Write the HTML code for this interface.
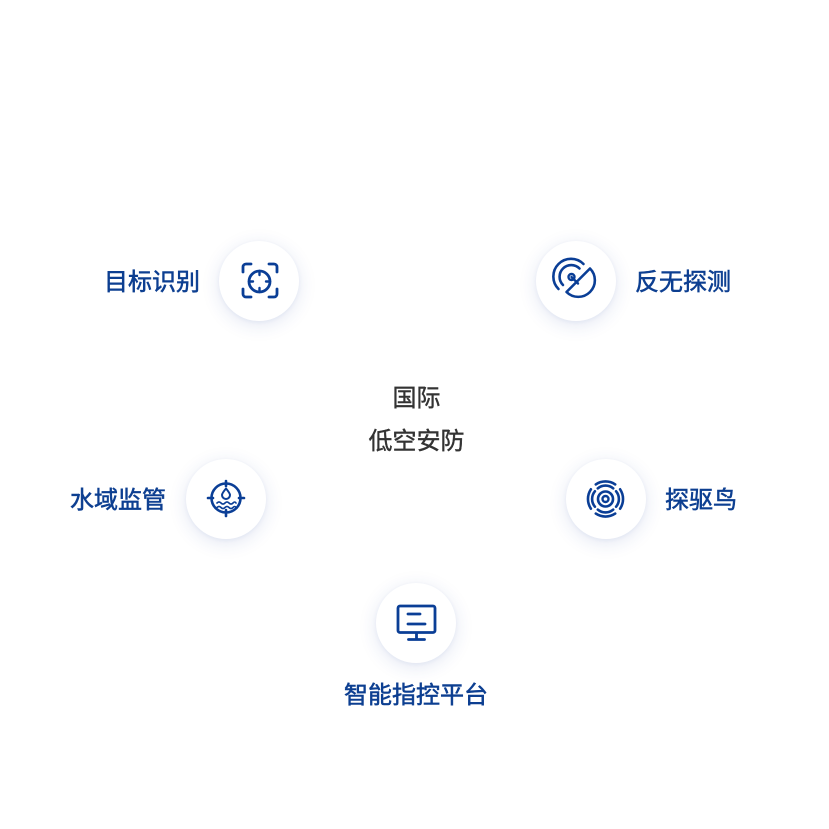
<!DOCTYPE html>
<html><head><meta charset="utf-8"><style>
html,body{margin:0;padding:0;background:#fff;}
body{width:829px;height:829px;position:relative;overflow:hidden;}
.c{position:absolute;width:80px;height:80px;border-radius:50%;background:#fff;box-shadow:0 4px 18px rgba(40,70,160,0.13),0 1px 4px rgba(40,70,160,0.06);}
svg{position:absolute;left:0;top:0;}
</style></head><body>
<div class="c" style="left:219px;top:241px"></div>
<div class="c" style="left:536px;top:241px"></div>
<div class="c" style="left:186px;top:459px"></div>
<div class="c" style="left:566px;top:459px"></div>
<div class="c" style="left:376px;top:583px"></div>
<svg width="829" height="829" viewBox="0 0 829 829">
<g font-family="'Liberation Sans','Noto Sans CJK SC',sans-serif" font-size="24" text-anchor="middle">
<g fill="#0d3f91" stroke="#0d3f91" stroke-width="0.55">
<text x="152" y="290">目标识别</text>
<text x="683" y="290">反无探测</text>
<text x="118" y="508">水域监管</text>
<text x="701" y="508">探驱鸟</text>
<text x="416" y="703">智能指控平台</text>
</g>
<g fill="#333" stroke="#333" stroke-width="0.4">
<text x="416.5" y="406">国际</text>
<text x="416.5" y="449">低空安防</text>
</g>
</g>
<g fill="none" stroke="#0a3e96" stroke-width="2.8" stroke-linecap="round" stroke-linejoin="round">
<!-- icon1 target -->
<path d="M243 272v-5a3 3 0 0 1 3-3h5 M269 264h5a3 3 0 0 1 3 3v5 M277 289v5a3 3 0 0 1-3 3h-5 M251 297h-5a3 3 0 0 1-3-3v-5"/>
<circle cx="259.5" cy="281.5" r="10.5"/>
<path d="M259.5 271v4 M259.5 288v4 M249 281.5h4 M266 281.5h4" stroke-width="2.4"/>
<!-- icon2 radar -->
<circle cx="571.5" cy="277" r="3" stroke-width="2.4"/>
<path d="M563 285a11.5 11.5 0 0 1 16.5-16.5" stroke-width="2.6"/>
<path d="M558.5 289a17.5 17.5 0 0 1 25-25" stroke-width="2.6"/>
<path d="M566.5 292L590 268.5A16.6 16.6 0 0 1 566.5 292Z" stroke-width="2.6"/>
<path d="M571.5 277L578 283.5" stroke-width="2.4"/>
<!-- icon3 water -->
<circle cx="226" cy="498" r="14.5" stroke-width="2.6"/>
<path d="M226 481v5 M226 510v6 M208 498h5 M239 498h5" stroke-width="2.6"/>
<path d="M226 488.5c-2.5 3-4 5-4 6.5a4 4 0 0 0 8 0c0-1.5-1.5-3.5-4-6.5z" stroke-width="2"/>
<path d="M217 503q2-2 4 0t4 0t4 0t4 0t3 0 M217 507.5q2-2 4 0t4 0t4 0t4 0t3 0" stroke-width="1.6"/>
<!-- icon4 bird -->
<circle cx="605.5" cy="499" r="3" stroke-width="2.4"/>
<circle cx="605.5" cy="499" r="7.5" stroke-width="2.6"/>
<g stroke-width="2.6">
<path d="M597.8 488.4A12 12 0 0 1 613.2 488.4"/>
<path d="M613.2 509.6A12 12 0 0 1 597.8 509.6"/>
<path d="M594.9 491.3A12 12 0 0 0 594.9 506.7"/>
<path d="M616.1 506.7A12 12 0 0 0 616.1 491.3"/>
<path d="M595.8 484.4A17.5 17.5 0 0 1 615.2 484.4"/>
<path d="M615.2 513.6A17.5 17.5 0 0 1 595.8 513.6"/>
<path d="M590.9 489.3A17.5 17.5 0 0 0 590.9 508.7"/>
<path d="M620.1 508.7A17.5 17.5 0 0 0 620.1 489.3"/>
</g>
<!-- icon5 monitor -->
<rect x="398" y="606" width="37" height="26.5" rx="2" stroke-width="2.8"/>
<path d="M416.5 633v6 M408.5 639.5h16" stroke-width="2.8"/>
<path d="M408 614h12 M408 624h17" stroke-width="2.8"/>
</g>
</svg>
</body></html>
